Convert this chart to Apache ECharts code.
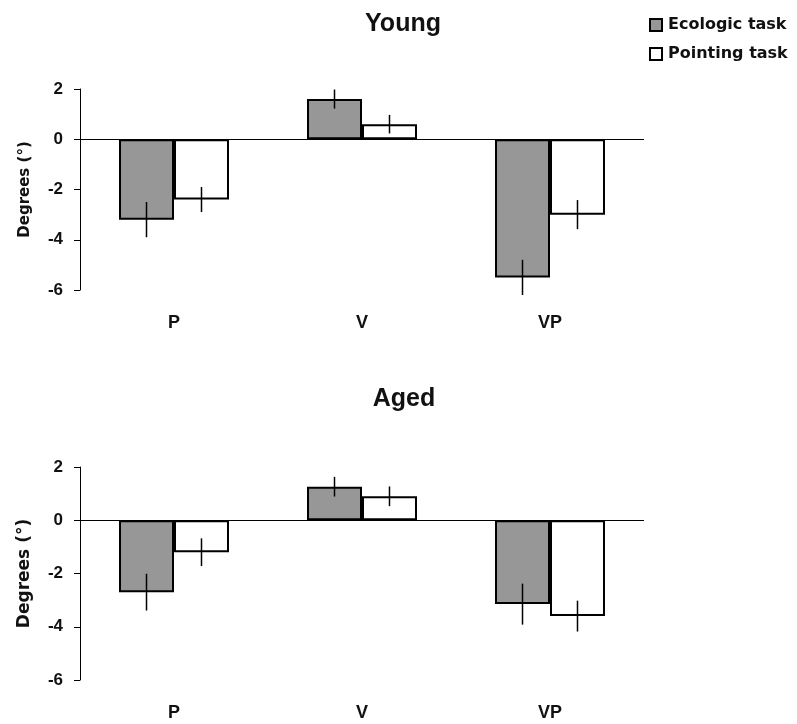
<!DOCTYPE html>
<html>
<head>
<meta charset="utf-8">
<script src="https://cdn.jsdelivr.net/npm/echarts@6/dist/echarts.min.js"></script>
<style>
  html, body { margin: 0; padding: 0; background: #fff; }
  #main { width: 797px; height: 724px; }
</style>
</head>
<body>
<div id="main"></div>
<script>
var chart = echarts.init(document.getElementById('main'));

// data
var categories = ['P', 'V', 'VP'];
var youngEco = [-3.2, 1.6, -5.5];
var youngEcoErr = [0.7, 0.38, 0.7];
var youngPoint = [-2.4, 0.6, -3.0];
var youngPointErr = [0.5, 0.37, 0.58];
var agedEco = [-2.7, 1.26, -3.15];
var agedEcoErr = [0.69, 0.37, 0.77];
var agedPoint = [-1.2, 0.9, -3.6];
var agedPointErr = [0.52, 0.37, 0.58];
var yTicks = { min: -6, max: 2, interval: 2 };

var GAP = 0.415; // barCategoryGap as fraction
var ARIAL = '"Liberation Sans", Arial, sans-serif';
var DEJAVU = '"DejaVu Sans", Verdana, sans-serif';

function errData(vals, errs) {
    var out = [];
    for (var i = 0; i < vals.length; i++) {
        out.push([i, vals[i], errs[i]]);
    }
    return out;
}

// vertical error line at the centre of the left (-1) or right (+1) bar
function errRender(side) {
    return function (params, api) {
        var idx = api.value(0), v = api.value(1), e = api.value(2);
        var band = api.size([1, 0])[0];
        var bw = band * (1 - GAP) / 2;
        var x = api.coord([idx, 0])[0] + side * bw / 2;
        var y1 = api.coord([idx, v + e])[1];
        var y2 = api.coord([idx, v - e])[1];
        return {
            type: 'line',
            shape: { x1: x, y1: y1, x2: x, y2: y2 },
            style: { stroke: '#000', lineWidth: 1.5 }
        };
    };
}

function xAxisFor(gi) {
    return {
        type: 'category',
        gridIndex: gi,
        data: categories,
        axisLine: { show: false, onZero: false },
        axisTick: { show: false },
        axisLabel: { margin: 24, color: '#111', fontSize: 18, fontWeight: 'bold', fontFamily: ARIAL }
    };
}

function yAxisFor(gi, nameSize) {
    return {
        type: 'value',
        gridIndex: gi,
        min: yTicks.min,
        max: yTicks.max,
        interval: yTicks.interval,
        name: 'Degrees (°)',
        nameLocation: 'middle',
        nameRotate: 90,
        nameGap: 47,
        nameTextStyle: { color: '#111', fontSize: nameSize, fontWeight: 'bold', fontFamily: DEJAVU },
        axisLine: { show: true, lineStyle: { color: '#000', width: 1 } },
        axisTick: { show: true, length: 6, lineStyle: { color: '#000', width: 1 } },
        axisLabel: { margin: 17, color: '#111', fontSize: 17, fontWeight: 'bold', fontFamily: ARIAL },
        splitLine: { show: false }
    };
}

var zeroLine = {
    silent: true,
    symbol: ['none', 'none'],
    label: { show: false },
    lineStyle: { color: '#000', width: 1, type: 'solid' },
    data: [{ yAxis: 0 }]
};

function barSeries(name, gi, values, fill, withZero) {
    var s = {
        name: name,
        type: 'bar',
        xAxisIndex: gi,
        yAxisIndex: gi,
        data: values,
        barGap: '0%',
        barCategoryGap: (GAP * 100) + '%',
        itemStyle: { color: fill, borderColor: '#000', borderWidth: 2 }
    };
    if (withZero) s.markLine = zeroLine;
    return s;
}

function errSeries(gi, vals, errs, side) {
    return {
        type: 'custom',
        xAxisIndex: gi,
        yAxisIndex: gi,
        z: 5,
        silent: true,
        renderItem: errRender(side),
        encode: { x: 0, y: 1 },
        data: errData(vals, errs)
    };
}

var option = {
    animation: false,
    backgroundColor: '#fff',
    title: [
        { text: 'Young', left: 398, top: 7, textAlign: 'center',
          textStyle: { fontSize: 25, fontWeight: 'bold', color: '#111', fontFamily: ARIAL } },
        { text: 'Aged', left: 399, top: 382, textAlign: 'center',
          textStyle: { fontSize: 25, fontWeight: 'bold', color: '#111', fontFamily: ARIAL } }
    ],
    legend: {
        data: ['Ecologic task', 'Pointing task'],
        orient: 'vertical',
        left: 649,
        top: 17,
        padding: 0,
        itemWidth: 12,
        itemHeight: 12,
        itemGap: 13,
        icon: 'rect',
        textStyle: { fontSize: 16, fontWeight: 'bold', color: '#111', fontFamily: DEJAVU, padding: [0, 0, 0, 1] }
    },
    grid: [
        { left: 80, top: 89, width: 564, height: 201 },
        { left: 80, top: 467, width: 564, height: 213 }
    ],
    xAxis: [xAxisFor(0), xAxisFor(1)],
    yAxis: [yAxisFor(0, 15), yAxisFor(1, 17)],
    series: [
        barSeries('Ecologic task', 0, youngEco, '#979797', true),
        barSeries('Pointing task', 0, youngPoint, '#ffffff', false),
        barSeries('Ecologic task', 1, agedEco, '#979797', true),
        barSeries('Pointing task', 1, agedPoint, '#ffffff', false),
        errSeries(0, youngEco, youngEcoErr, -1),
        errSeries(0, youngPoint, youngPointErr, 1),
        errSeries(1, agedEco, agedEcoErr, -1),
        errSeries(1, agedPoint, agedPointErr, 1)
    ]
};

chart.setOption(option);
</script>
</body>
</html>
